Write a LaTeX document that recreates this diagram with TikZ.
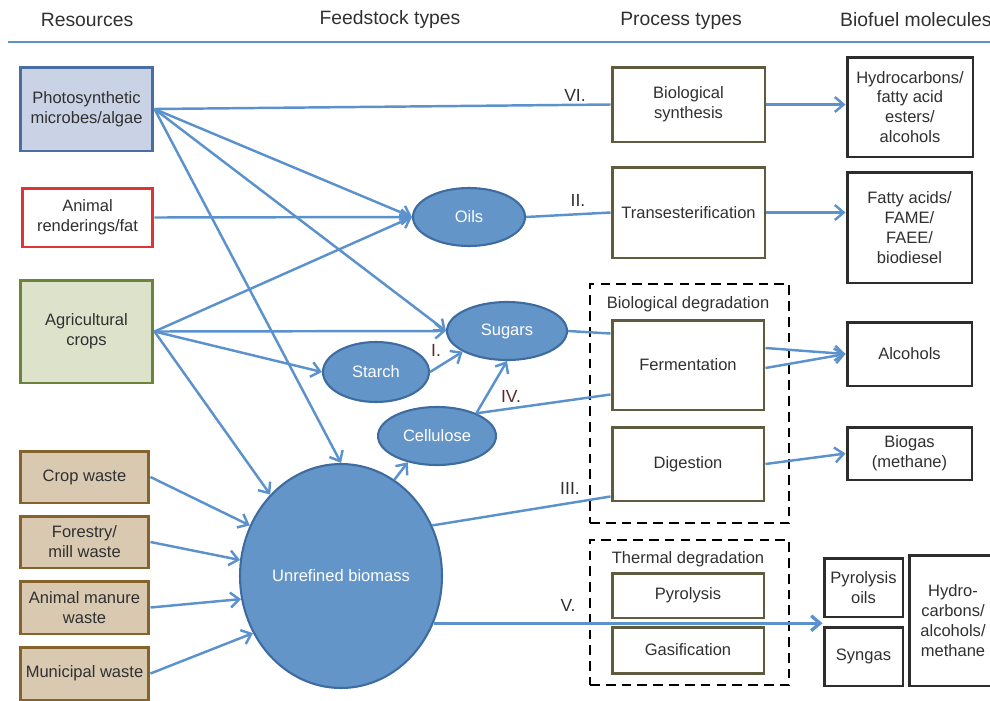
\documentclass[tikz,border=0pt]{standalone}
\usepackage{fontspec}
\setmainfont{Liberation Sans}
\usetikzlibrary{shapes.geometric,arrows.meta}

\definecolor{linkblue}{RGB}{91,146,205}
\definecolor{blobfill}{RGB}{99,149,201}
\definecolor{blobline}{RGB}{62,108,160}
\definecolor{algaefill}{RGB}{201,211,229}
\definecolor{algaeline}{RGB}{72,110,164}
\definecolor{fatline}{RGB}{222,52,52}
\definecolor{cropfill}{RGB}{221,227,202}
\definecolor{cropline}{RGB}{108,132,58}
\definecolor{wastefill}{RGB}{216,201,176}
\definecolor{wasteline}{RGB}{132,100,44}
\definecolor{procline}{RGB}{96,90,62}
\definecolor{fuelline}{RGB}{45,45,45}
\definecolor{txtgrey}{RGB}{48,48,48}
\definecolor{romanred}{RGB}{92,40,40}

\begin{document}
\begin{tikzpicture}[
        x=0.02cm, y=-0.02cm,
        >={Straight Barb[length=5pt,width=8.5pt]},
        font=\fontsize{9.4}{11.3}\selectfont,
        every node/.style={text=txtgrey},
        box/.style={
            draw, line width=1.7pt, inner sep=2pt,
            align=center
        },
        algae/.style={box, draw=algaeline, fill=algaefill},
        fat/.style={box, draw=fatline, fill=white},
        crop/.style={box, draw=cropline, fill=cropfill},
        waste/.style={box, draw=wasteline, fill=wastefill,
            minimum width=2.58cm},
        proc/.style={box, draw=procline, fill=white,
            minimum width=3.04cm},
        fuel/.style={box, draw=fuelline, fill=white},
        blob/.style={ellipse, draw=blobline, fill=blobfill,
            line width=1.2pt, inner sep=0pt, text=white},
        frame/.style={draw, dashed, line width=1.5pt,
            dash pattern=on 5.5pt off 3.5pt, inner sep=0pt},
        head/.style={font=\fontsize{11}{13}\selectfont},
        link/.style={draw=linkblue, line width=1.4pt},
        roman/.style={font=\fontsize{10}{12}\selectfont}
    ]

    \useasboundingbox (0,0) rectangle (990,700);

    % 1. Column headings
    \node[head] (hres)  at (87,20)  {Resources};
    \node[head] (hfeed) at (390,20) {Feedstock types};
    \node[head] (hproc) at (681,21) {Process types};
    \node[head, anchor=west] (hfuel) at (834,20) {Biofuel molecules};
    \coordinate (ruleL) at (8,42);
    \coordinate (ruleR) at (990,42);
    \draw[linkblue, line width=1.4pt] (ruleL) -- (ruleR);

    % 2. Resources
    \node[algae, minimum width=2.66cm, minimum height=1.68cm] (photo) at (86.5,109)
        {Photosynthetic\\microbes/algae};
    \node[fat, minimum width=2.62cm, minimum height=1.18cm] (animal) at (87.5,217.5)
        {Animal\\renderings/fat};
    \node[crop, minimum width=2.66cm, minimum height=2.06cm] (agri) at (86.5,331.5)
        {Agricultural\\crops};
    \node[waste, minimum height=1.04cm] (cropw) at (84.5,477) {Crop waste};
    \node[waste, minimum height=1.04cm] (forest) at (84.5,542) {Forestry/\\mill waste};
    \node[waste, minimum height=1.06cm] (manure) at (84.5,607.5) {Animal manure\\waste};
    \node[waste, minimum height=1.06cm] (munic) at (84.5,673.5) {Municipal waste};

    % 3. Feedstock types
    \node[blob, minimum width=2.24cm, minimum height=1.16cm] (oils) at (469,217) {Oils};
    \node[blob, minimum width=2.40cm, minimum height=1.16cm] (sugars) at (507,331) {Sugars};
    \node[blob, minimum width=2.12cm, minimum height=1.20cm] (starch) at (376,372) {Starch};
    \node[blob, minimum width=2.36cm, minimum height=1.16cm] (cellu) at (437,436) {Cellulose};
    \node[blob, inner xsep=-1.5pt, minimum width=4.04cm, minimum height=4.48cm] (biomass)
        at (341,576) {Unrefined biomass};

    % 4. Degradation frames
    \node[frame, minimum width=3.98cm, minimum height=4.78cm] (biodeg) at (689.5,403.5) {};
    \node (biodegtxt) at (688,304) {Biological degradation};
    \node[frame, minimum width=3.98cm, minimum height=2.90cm] (thermdeg) at (689.5,612.5) {};
    \node (thermdegtxt) at (688,559) {Thermal degradation};

    % 5. Process types
    \node[proc, minimum width=3.06cm, minimum height=1.50cm] (biosyn) at (688.5,104.5)
        {Biological\\synthesis};
    \node[proc, minimum width=3.06cm, minimum height=1.82cm] (trans) at (688.5,212.5)
        {Transesterification};
    \node[proc, minimum height=1.80cm] (ferm) at (688,365) {Fermentation};
    \node[proc, minimum height=1.48cm] (digest) at (688,464) {Digestion};
    \node[proc, minimum height=0.90cm] (pyro) at (688,595.5) {Pyrolysis};
    \node[proc, minimum height=0.92cm] (gasif) at (688,650) {Gasification};

    % 6. Biofuel molecules
    \node[fuel, minimum width=2.52cm, minimum height=2.00cm] (hydro) at (910,107)
        {Hydrocarbons/\\fatty acid\\esters/\\alcohols};
    \node[fuel, minimum width=2.50cm, minimum height=2.22cm] (fame) at (909.5,227.5)
        {Fatty acids/\\FAME/\\FAEE/\\biodiesel};
    \node[fuel, minimum width=2.50cm, minimum height=1.28cm] (alcoh) at (909.5,354) {Alcohols};
    \node[fuel, minimum width=2.50cm, minimum height=1.06cm] (biogas) at (909.5,453.5)
        {Biogas\\(methane)};
    \node[fuel, minimum width=1.58cm, minimum height=1.18cm] (pyoil) at (863.5,587.5)
        {Pyrolysis\\oils};
    \node[fuel, minimum width=1.58cm, minimum height=1.18cm] (syngas) at (863.5,656.5) {Syngas};
    \node[fuel, minimum width=1.76cm, minimum height=2.62cm] (hcam) at (953,620.5)
        {Hydro-\\carbons/\\alcohols/\\methane};

    % 7. Resources -> feedstocks
    \draw[link] (photo.east) -- (biosyn.west);
    \draw[link, ->] (photo.east) -- (oils.west);
    \draw[link, ->] (photo.east) -- (sugars.west);
    \draw[link, ->] (photo.east) -- (biomass.north);
    \draw[link, ->] (animal.east) -- (oils.west);
    \draw[link, ->] (agri.east) -- (oils.west);
    \draw[link, ->] (agri.east) -- (sugars.west);
    \draw[link, ->] (agri.east) -- (starch.west);
    \draw[link, ->] (agri.east) -- (biomass.131);
    \draw[link, ->] (cropw.east) -- (biomass.151);
    \draw[link, ->] (forest.east) -- (biomass.171);
    \draw[link, ->] (manure.east) -- (biomass.193);
    \draw[link, ->] (munic.east) -- (biomass.213);

    % 8. Between feedstocks
    \draw[link, ->] (starch.east) -- (sugars.205);
    \draw[link, ->] (cellu.30) -- (sugars.south);
    \draw[link, ->] (biomass.61) -- (cellu.222);

    % 9. Feedstocks -> processes
    \draw[link] (oils.east) -- (trans.west);
    \draw[link] (sugars.east) -- ([yshift=-0.3cm]ferm.north west);
    \draw[link] (cellu.30) -- ([yshift=0.34cm]ferm.south west);
    \draw[link] (biomass.29) -- ([yshift=0.12cm]digest.south west);
    \draw[link, ->, line width=1.9pt] (biomass.333) -- (biomass.333 -| pyoil.west);

    % 10. Processes -> biofuels
    \draw[link, ->] (biosyn.east) -- (biosyn.east -| hydro.west);
    \draw[link, ->] (trans.east) -- (trans.east -| fame.west);
    \draw[link, ->] ([yshift=0.34cm]ferm.east) -- (alcoh.west);
    \draw[link, ->] ([yshift=-0.06cm]ferm.east) -- (alcoh.west);
    \draw[link, ->] (digest.east) -- (biogas.west);

    % 11. Route numbers
    \node[roman] (rVI)  at (575,95)  {VI.};
    \node[roman] (rII)  at (578,200) {II.};
    \node[roman, text=romanred] (rI)  at (436,350) {I.};
    \node[roman, text=romanred] (rIV) at (511,396) {IV.};
    \node[roman] (rIII) at (570,488) {III.};
    \node[roman] (rV)   at (568,605) {V.};

\end{tikzpicture}
\end{document}
